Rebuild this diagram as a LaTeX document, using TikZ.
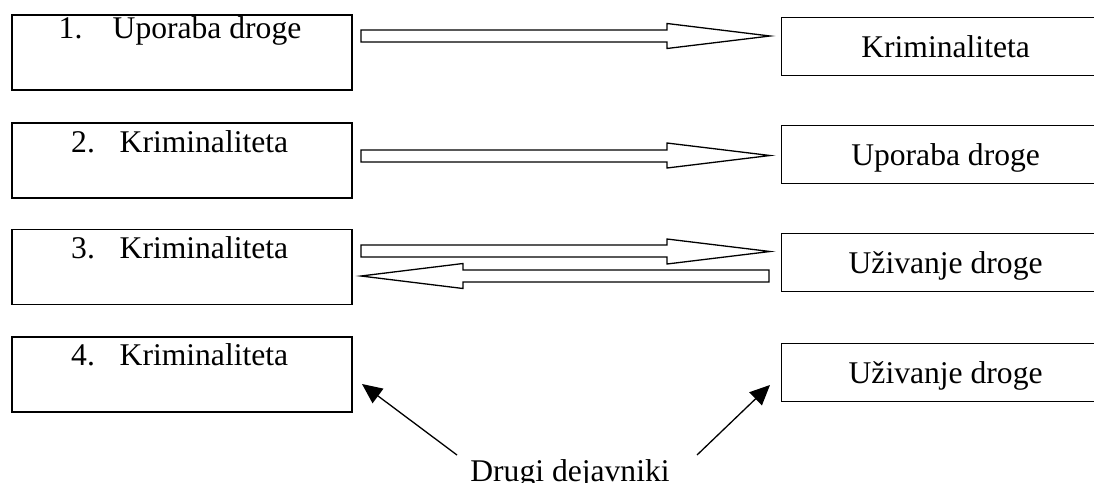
\documentclass[tikz,border=0pt]{standalone}
\usepackage{fontspec}
\setmainfont{Liberation Serif}
\usetikzlibrary{arrows.meta}
\begin{document}
\begin{tikzpicture}[x=1pt,y=-1pt,
  lbox/.style={draw,line width=1.7pt,minimum width=340pt,minimum height=75pt,inner sep=0pt,anchor=north west},
  rbox/.style={draw,line width=1.2pt,minimum width=328pt,minimum height=58pt,inner sep=0pt,anchor=north west,
    text height=27pt,text depth=5pt,font=\fontsize{31.6}{37}\selectfont},
  lbl/.style={inner sep=0pt,anchor=base west,font=\fontsize{31.6}{37}\selectfont},
  blk/.style={draw,line width=1.3pt,fill=white,line join=miter},
  thin/.style={line width=1.3pt,-{Triangle[length=20pt,width=18pt]}}]
\useasboundingbox (0,0) rectangle (1094,482);
\clip (0,0) rectangle (1094,482);
% left boxes
\node[lbox] (L1) at (11,14) {};
\node[lbox] (L2) at (11,122) {};
\node[lbox] (L3) at (11,228.5) {};
\node[lbox] (L4) at (11,336) {};
\node[lbl] (n1) at (58.5,38.5) {1.};
\node[lbl] (t1) at (112.5,38.5) {Uporaba droge};
\node[lbl] (n2) at (71,152) {2.};
\node[lbl] (t2) at (119.5,152) {Kriminaliteta};
\node[lbl] (n3) at (71,258) {3.};
\node[lbl] (t3) at (119.5,258) {Kriminaliteta};
\node[lbl] (n4) at (71,365) {4.};
\node[lbl] (t4) at (119.5,365) {Kriminaliteta};
% right boxes
\node[rbox] (R1) at (781,17) {Kriminaliteta};
\node[rbox] (R2) at (781,125) {Uporaba droge};
\node[rbox] (R3) at (781,233) {Uživanje droge};
\node[rbox] (R4) at (781,342.5) {Uživanje droge};
% block arrows
\draw[blk] (361,30) -- (667,30) -- (667,23.5) -- (770,36) -- (667,48.5) -- (667,42) -- (361,42) -- cycle;
\draw[blk] (361,150) -- (667,150) -- (667,143) -- (770,155.5) -- (667,168) -- (667,162) -- (361,162) -- cycle;
\draw[blk] (361,245) -- (667,245) -- (667,239) -- (770,251.5) -- (667,264) -- (667,257) -- (361,257) -- cycle;
\draw[blk] (769,270) -- (463,270) -- (463,263.5) -- (361,276) -- (463,288.5) -- (463,282) -- (769,282) -- cycle;
% other factors
\node[inner sep=0pt,anchor=base,font=\fontsize{31.6}{37}\selectfont] (dd) at (570,481.5) {Drugi dejavniki};
\coordinate (s1) at (457,455);
\coordinate (e1) at (362,384);
\coordinate (s2) at (697,455);
\coordinate (e2) at (770,385);
\draw[thin] (s1) -- (e1);
\draw[thin] (s2) -- (e2);
\end{tikzpicture}
\end{document}
